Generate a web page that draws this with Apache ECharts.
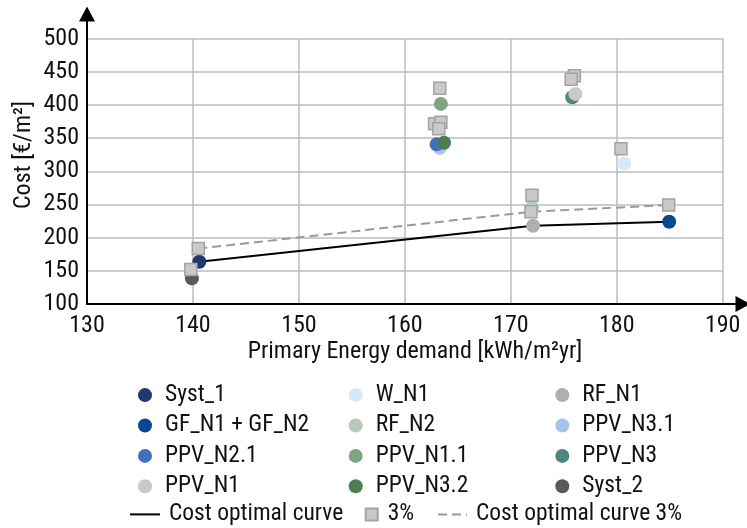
<!DOCTYPE html>
<html><head><meta charset="utf-8">
<script src="https://cdn.jsdelivr.net/npm/echarts@6/dist/echarts.min.js"></script>
<style>html,body{margin:0;padding:0;background:#fff}#c{width:747px;height:528px}</style>
</head><body><div id="c"></div>
<script>
const systems = ['Syst_1','GF_N1 + GF_N2','PPV_N2.1','PPV_N1','W_N1','RF_N2','PPV_N1.1','PPV_N3.2','RF_N1','PPV_N3.1','PPV_N3','Syst_2'];
const primaryEnergy = [140.6,184.95,163.0,176.1,180.7,172.0,163.4,163.7,172.1,163.3,175.8,139.9];
const cost = [163.6,224,340.5,416.5,311.6,245.5,401.5,343,218,335.5,411.4,138.6];
const primaryEnergy3 = [140.5,184.9,162.8,176.0,180.4,172.0,163.3,163.4,171.9,163.2,175.7,139.8];
const cost3 = [183.5,249,371.5,444,334,264,425,374,239,364,438.6,152];
const curveX = [140.6,172.1,184.95];
const curveY = [163.6,218,224];
const curve3X = [140.5,171.9,184.9];
const curve3Y = [183.5,239,249];
const xTicks = [130,140,150,160,170,180,190];
const yTicks = [100,150,200,250,300,350,400,450,500];
const colors = ['#1f3a73','#0a4792','#3f70bd','#c9c9c9','#d4eaf9','#b7c9b9','#7ea582','#4d7d52','#afafaf','#a8c3e6','#4b877a','#595959'];
const drawOrder = [0,1,9,2,7,4,5,8,6,10,3,11];

const FONT = "'Roboto Condensed','Liberation Sans Narrow','DejaVu Sans Condensed',sans-serif";
const chart = echarts.init(document.getElementById('c'));

const series = [];
series.push({name:'Cost optimal curve',type:'line',xAxisIndex:0,yAxisIndex:0,symbol:'none',
  data:curveX.map((x,i)=>[x,curveY[i]]),lineStyle:{color:'#000',width:2},itemStyle:{color:'#000'},z:2});
series.push({name:'Cost optimal curve 3%',type:'line',xAxisIndex:0,yAxisIndex:0,symbol:'none',
  data:curve3X.map((x,i)=>[x,curve3Y[i]]),lineStyle:{color:'#9a9a9a',width:2,type:[9,5]},itemStyle:{color:'#9a9a9a'},z:2});
drawOrder.forEach(i=>{
  series.push({name:systems[i],type:'scatter',xAxisIndex:0,yAxisIndex:0,symbol:'circle',symbolSize:14,
    data:[[primaryEnergy[i],cost[i]]],itemStyle:{color:colors[i],opacity:1},z:3});
});
series.push({name:'3%',type:'scatter',xAxisIndex:0,yAxisIndex:0,symbol:'rect',symbolSize:12,
  data:primaryEnergy3.map((x,i)=>[x,cost3[i]]),itemStyle:{color:'#c9c9c9',borderColor:'#a3a3a3',borderWidth:1.5,opacity:1},z:4});

const txt = {fontFamily:FONT,fontSize:24,color:'#111'};
const ltxt = {fontFamily:FONT,fontSize:23.5,color:'#111',lineHeight:30.2};
function colLegend(left,names){
  return {data:names,orient:'vertical',left:left,top:380,itemWidth:30,itemHeight:14,itemGap:0.2,icon:'circle',
    selectedMode:false,padding:0,textStyle:ltxt};
}
const noMark = {color:'rgba(0,0,0,0)',opacity:0,borderWidth:0};

const option = {
  animation:false,
  grid:[
    {left:87,right:24.3,top:38.5,bottom:224,containLabel:false},
    {left:87,right:4,top:14,bottom:224,containLabel:false}
  ],
  xAxis:[
    {type:'value',gridIndex:0,min:xTicks[0],max:xTicks[xTicks.length-1],interval:10,
      axisLine:{show:false},axisTick:{show:false},
      axisLabel:Object.assign({},txt,{margin:10}),
      splitLine:{show:true,lineStyle:{color:'#bdbdbd',width:1.5}}},
    {type:'value',gridIndex:1,min:0,max:1,
      axisLine:{show:true,lineStyle:{color:'#000',width:2},symbol:['none','triangle'],symbolSize:[16,15]},
      axisTick:{show:false},axisLabel:{show:false},splitLine:{show:false},
      name:'Primary Energy demand [kWh/m²yr]',nameLocation:'middle',nameGap:36,nameTextStyle:txt}
  ],
  yAxis:[
    {type:'value',gridIndex:0,min:yTicks[0],max:yTicks[yTicks.length-1],interval:50,
      axisLine:{show:false},axisTick:{show:false},
      axisLabel:Object.assign({},txt,{margin:8}),
      splitLine:{show:true,lineStyle:{color:'#bdbdbd',width:1.5}}},
    {type:'value',gridIndex:1,min:0,max:1,
      axisLine:{show:true,lineStyle:{color:'#000',width:2},symbol:['none','triangle'],symbolSize:[16,15]},
      axisTick:{show:false},axisLabel:{show:false},splitLine:{show:false},
      name:'Cost [€/m²]',nameLocation:'middle',nameGap:51,nameTextStyle:Object.assign({},txt,{padding:[0,0,0,8]})}
  ],
  legend:[
    colLegend(138,systems.slice(0,4)),
    colLegend(348.7,systems.slice(4,8)),
    colLegend(555.3,systems.slice(8,12)),
    {data:[{name:'Cost optimal curve',itemStyle:noMark}],left:129,top:499.3,itemWidth:30,itemHeight:14,selectedMode:false,padding:0,
      textStyle:Object.assign({},ltxt,{padding:[0,0,0,4]})},
    {data:['3%'],left:364.7,top:499.3,itemWidth:12,itemHeight:12,selectedMode:false,padding:0,
      textStyle:Object.assign({},ltxt,{padding:[0,0,0,5]})},
    {data:[{name:'Cost optimal curve 3%',itemStyle:noMark}],left:437,top:499.3,itemWidth:29,itemHeight:14,selectedMode:false,padding:0,
      textStyle:Object.assign({},ltxt,{padding:[0,0,0,4]})}
  ],
  series:series
};
chart.setOption(option);
</script>
</body></html>
